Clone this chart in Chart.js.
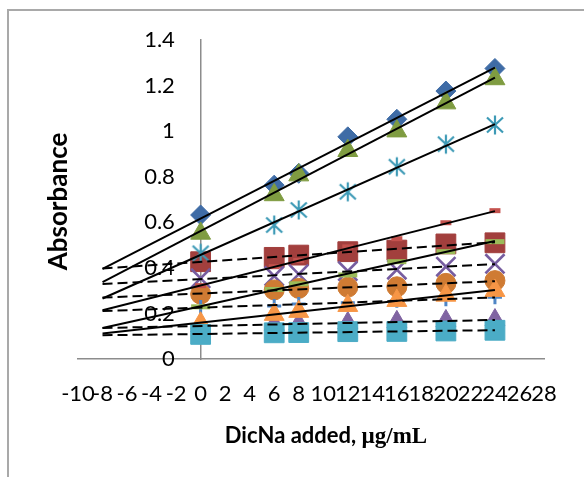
<!DOCTYPE html>
<html>
<head>
<meta charset="utf-8">
<title>H-point standard addition plot</title>
<script src="https://cdn.jsdelivr.net/npm/chart.js@4.4.1/dist/chart.umd.min.js"></script>
<style>
  html, body { margin: 0; padding: 0; background: #ffffff; overflow: hidden; }
  #wrap { position: relative; width: 584px; height: 477px; overflow: hidden; }
  #wrap canvas { position: absolute; left: 0; top: 0; }
  #frame {
    position: absolute; left: 7px; top: 9px; width: 620px; height: 520px;
    border-left: 2px solid #a9a9a9; border-top: 2px solid #a9a9a9;
    pointer-events: none;
  }
</style>
</head>
<body>
<div id="wrap">
  <canvas id="chart" width="584" height="477"></canvas>
  <div id="frame"></div>
</div>
<script>
// DicNa added (µg/mL)
const concentrations = [0, 6, 8, 12, 16, 20, 24];

// Absorbance readings, one array per series
const absDiamond     = [0.632, 0.763, 0.815, 0.975, 1.052, 1.176, 1.275];
const absSquare      = [0.427, 0.446, 0.456, 0.471, 0.478, 0.505, 0.510];
const absTriangle    = [0.551, 0.720, 0.807, 0.914, 1.000, 1.123, 1.229];
const absCross       = [0.354, 0.364, 0.372, 0.386, 0.392, 0.405, 0.418];
const absStar        = [0.464, 0.588, 0.654, 0.734, 0.844, 0.943, 1.027];
const absCircle      = [0.285, 0.303, 0.310, 0.315, 0.317, 0.332, 0.344];
const absPlus        = [0.228, 0.233, 0.241, 0.247, 0.256, 0.262, 0.271];
const absRedDash     = [0.322, 0.405, 0.432, 0.492, 0.528, 0.598, 0.651];
const absGreenDash   = [0.229, 0.305, 0.330, 0.369, 0.427, 0.471, 0.515];
const absPurpleTri   = [0.145, 0.151, 0.154, 0.158, 0.163, 0.167, 0.171];
const absOrangeTri   = [0.157, 0.195, 0.208, 0.234, 0.256, 0.279, 0.300];
const absTealSquare  = [0.108, 0.115, 0.116, 0.120, 0.121, 0.123, 0.126];

// Axis ticks
const xTicks = [-10, -8, -6, -4, -2, 0, 2, 4, 6, 8, 10, 12, 14, 16, 18, 20, 22, 24, 26, 28];
const yTicks = [0, 0.2, 0.4, 0.6, 0.8, 1, 1.2, 1.4];
const yTickLabels = ['0', '0.2', '0.4', '0.6', '0.8', '1', '1.2', '1.4'];

// Linear trendlines are extended back by this many units
const backcast = 8;

// Asterisk marker: vertical bar plus an X
function makeAsterisk(color) {
  const c = document.createElement('canvas');
  c.width = 22; c.height = 22;
  const g = c.getContext('2d');
  g.strokeStyle = color;
  g.lineWidth = 2.2;
  g.beginPath();
  g.moveTo(11, 1.5); g.lineTo(11, 20.5);
  g.moveTo(3, 3.5); g.lineTo(19, 18.5);
  g.moveTo(19, 3.5); g.lineTo(3, 18.5);
  g.stroke();
  return c;
}

const seriesDefs = [
  { data: absDiamond,    style: 'rectRot',  radius: 10,   color: '#3f6ca6', fill: true,  dash: false },
  { data: absSquare,     style: 'rect',     radius: 14,   color: '#a23f3d', fill: true,  dash: true  },
  { data: absTriangle,   style: 'triangle', radius: 11.5, color: '#7f9c41', fill: true,  dash: false },
  { data: absCross,      style: 'crossRot', radius: 13.5, color: '#775da0', fill: false, dash: true, width: 2.6 },
  { data: absStar,       style: makeAsterisk('#3d9ab6'), radius: 10, color: '#3d9ab6', fill: false, dash: false },
  { data: absCircle,     style: 'circle',   radius: 10,   color: '#cf7b33', fill: true,  dash: true  },
  { data: absPlus,       style: 'cross',    radius: 7,    color: '#4f86c6', fill: false, dash: true, width: 3 },
  { data: absRedDash,    style: 'line',     radius: 5.5,  color: '#c4524e', fill: false, dash: false, width: 5 },
  { data: absGreenDash,  style: 'line',     radius: 9.5,  color: '#9bbb59', fill: false, dash: false, width: 5 },
  { data: absPurpleTri,  style: 'triangle', radius: 11.5, color: '#8064a2', fill: true,  dash: true  },
  { data: absOrangeTri,  style: 'triangle', radius: 11.5, color: '#f79646', fill: true,  dash: false },
  { data: absTealSquare, style: 'rect',     radius: 14,   color: '#4bacc6', fill: true,  dash: true  }
];

// Least-squares line through a series
function leastSquares(xs, ys) {
  const n = xs.length;
  const mx = xs.reduce((a, v) => a + v, 0) / n;
  const my = ys.reduce((a, v) => a + v, 0) / n;
  let sxy = 0, sxx = 0;
  for (let i = 0; i < n; i++) {
    sxy += (xs[i] - mx) * (ys[i] - my);
    sxx += (xs[i] - mx) * (xs[i] - mx);
  }
  const slope = sxy / sxx;
  return { slope, intercept: my - slope * mx };
}

const datasets = [];
seriesDefs.forEach((s, i) => {
  datasets.push({
    label: 'Series ' + (i + 1),
    data: concentrations.map((x, k) => ({ x, y: s.data[k] })),
    showLine: false,
    pointStyle: s.style,
    pointRadius: s.radius,
    pointBackgroundColor: s.fill ? s.color : 'transparent',
    pointBorderColor: s.color,
    pointBorderWidth: s.width || 1,
    order: 100 - i
  });
});
seriesDefs.forEach((s, i) => {
  const fit = leastSquares(concentrations, s.data);
  const x0 = concentrations[0] - backcast;
  const x1 = concentrations[concentrations.length - 1];
  datasets.push({
    label: 'Linear (Series ' + (i + 1) + ')',
    data: [
      { x: x0, y: fit.intercept + fit.slope * x0 },
      { x: x1, y: fit.intercept + fit.slope * x1 }
    ],
    showLine: true,
    borderColor: '#000000',
    borderWidth: 2,
    borderDash: s.dash ? [10, 5] : [],
    pointRadius: 0,
    order: 1
  });
});

// Axis titles; the unit part is set in a serif face
const axisTitles = {
  id: 'axisTitles',
  afterDraw(chart) {
    const { ctx, chartArea } = chart;
    ctx.save();
    ctx.fillStyle = '#000000';
    ctx.textBaseline = 'middle';

    ctx.save();
    ctx.translate(chartArea.left - 19, (chartArea.top + chartArea.bottom) / 2 + 2);
    ctx.rotate(-Math.PI / 2);
    ctx.textAlign = 'center';
    ctx.font = 'bold 26px Lato';
    ctx.fillText('Absorbance', 0, 0);
    ctx.restore();

    const partA = 'DicNa added, ';
    const partB = 'µg/mL';
    const fontA = 'bold 22px Lato';
    const fontB = 'bold 23px "Liberation Serif"';
    ctx.font = fontA; const wA = ctx.measureText(partA).width;
    ctx.font = fontB; const wB = ctx.measureText(partB).width;
    const cx = (chartArea.left + chartArea.right) / 2 + 15;
    const cy = 436;
    let x = cx - (wA + wB) / 2;
    ctx.textAlign = 'left';
    ctx.font = fontA; ctx.fillText(partA, x, cy);
    ctx.font = fontB; ctx.fillText(partB, x + wA, cy + 1);
    ctx.restore();
  }
};

const tickFont = { family: 'Lato', size: 22 };

new Chart(document.getElementById('chart'), {
  type: 'scatter',
  data: { datasets },
  plugins: [axisTitles],
  options: {
    responsive: false,
    animation: false,
    events: [],
    layout: { padding: { left: 78, right: 40, top: 40, bottom: 0 } },
    plugins: { legend: { display: false }, tooltip: { enabled: false } },
    scales: {
      x: {
        type: 'linear',
        position: 'bottom',
        min: -10, max: 28,
        afterBuildTicks: (scale) => { scale.ticks = xTicks.map(v => ({ value: v })); },
        afterFit: (scale) => { scale.height = 118; },
        grid: { display: false, drawTicks: false, tickLength: 0 },
        border: { display: true, color: '#8c8c8c', width: 1.5 },
        ticks: {
          autoSkip: false, maxRotation: 0, minRotation: 0,
          padding: 22, color: '#000000', font: tickFont
        }
      },
      // value axis line, crossing the x axis at 0
      y: {
        type: 'linear',
        position: { x: 0 },
        min: 0, max: 1.4,
        afterBuildTicks: (scale) => { scale.ticks = yTicks.map(v => ({ value: v })); },
        grid: { display: false, drawTicks: false, tickLength: 0 },
        border: { display: true, color: '#8c8c8c', width: 1.5 },
        ticks: { display: false }
      },
      // value axis labels, set a little to the left of the axis line
      yLabels: {
        type: 'linear',
        position: { x: -2.1 },
        min: 0, max: 1.4,
        afterBuildTicks: (scale) => { scale.ticks = yTicks.map(v => ({ value: v })); },
        grid: { display: false, drawTicks: false, tickLength: 0 },
        border: { display: false },
        ticks: {
          color: '#000000', font: tickFont,
          callback: (value, index) => yTickLabels[index]
        }
      }
    }
  }
});
</script>
</body>
</html>
